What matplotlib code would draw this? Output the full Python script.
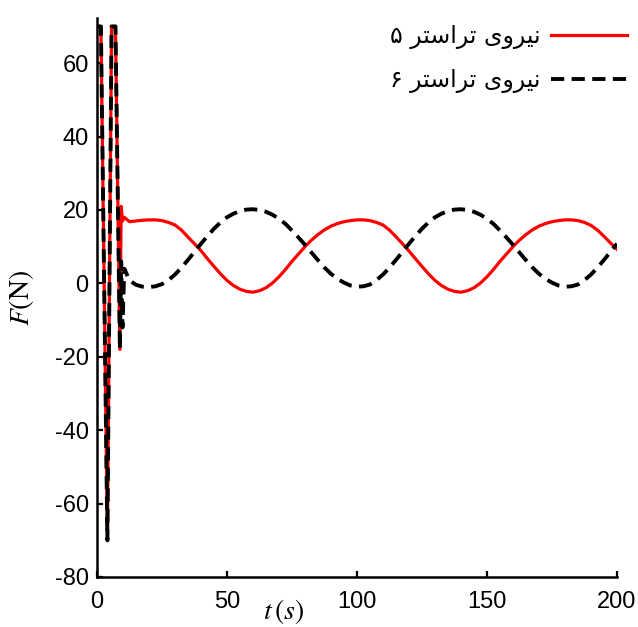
import matplotlib
matplotlib.use("Agg")
import matplotlib.pyplot as plt
from matplotlib.lines import Line2D

# ---------------- data ----------------
# start-up transient (both thrusters saturate at +/-70 N)
time_transient = [0, 1.5, 4.0, 5.6, 7.1, 8.8, 9.3, 9.8, 10.5]
thruster5_transient = [70, 70, -70, 70, 70, -18, 21, 17, 18]
thruster6_transient = [70, 70, -70, 70, 70, -18, 6, -12, 4]

# steady part, sampled every 2.5 s from 12.5 s to 200 s
time_steady = [12.5 + 2.5 * i for i in range(76)]
thruster5_steady = [
    16.8, 17.0, 17.2, 17.3, 17.3, 17.1, 16.6, 15.9, 14.5, 12.6,
    10.8, 8.9, 6.7, 4.6, 2.6, 0.8, -0.6, -1.6, -2.2, -2.4,
    -2.0, -1.2, 0.1, 1.8, 3.8, 6.0, 8.0, 10.0, 11.8, 13.3,
    14.6, 15.6, 16.3, 16.8, 17.1, 17.3,
    17.3, 17.1, 16.6, 15.9, 14.5, 12.7, 10.8, 8.8, 6.7, 4.6,
    2.6, 0.8, -0.6, -1.6, -2.2, -2.4, -2.0, -1.2, 0.1, 1.8,
    3.8, 6.0, 8.0, 10.0, 11.8, 13.3, 14.6, 15.6, 16.3, 16.8,
    17.1, 17.3,
    17.3, 17.1, 16.6, 15.8, 14.5, 12.8, 11.0, 9.3]
thruster6_steady = [
    0.8, -0.4, -0.9, -1.0, -0.8, -0.2, 0.9, 2.4, 4.3, 6.4,
    8.6, 10.8, 12.9, 14.9, 16.6, 18.0, 19.0, 19.7, 20.1, 20.2,
    20.0, 19.5, 18.7, 17.6, 16.2, 14.4, 12.5, 10.5, 8.4, 6.3,
    4.3, 2.6, 1.2, 0.2, -0.6, -0.9,
    -0.8, -0.3, 0.9, 2.4, 4.3, 6.4, 8.6, 10.8, 12.9, 14.9,
    16.6, 18.0, 19.0, 19.7, 20.1, 20.2, 20.0, 19.5, 18.7, 17.6,
    16.2, 14.4, 12.5, 10.5, 8.4, 6.3, 4.3, 2.6, 1.2, 0.2,
    -0.6, -0.9,
    -0.8, -0.3, 0.9, 2.4, 4.3, 6.4, 8.6, 10.8]

legend_labels = ["نیروی تراستر ۵", "نیروی تراستر ۶"]
xticks = [0, 50, 100, 150, 200]
yticks = [-80, -60, -40, -20, 0, 20, 40, 60]
xlabel = r"$t\,(s)$"
ylabel = r"$F(\mathrm{N})$"

time = time_transient + time_steady
thruster5 = thruster5_transient + thruster5_steady
thruster6 = thruster6_transient + thruster6_steady
assert len(time) == len(thruster5) == len(thruster6)

# ---------------- minimal Persian shaping (presentation forms) ----------------
_FORMS = {  # isolated, final, initial, medial
    'ن': ('\uFEE5', '\uFEE6', '\uFEE7', '\uFEE8'),
    'ی': ('\uFEEF', '\uFEF0', '\uFEF3', '\uFEF4'),
    'ت': ('\uFE95', '\uFE96', '\uFE97', '\uFE98'),
    'س': ('\uFEB1', '\uFEB2', '\uFEB3', '\uFEB4'),
    'ر': ('\uFEAD', '\uFEAE', None, None),
    'و': ('\uFEED', '\uFEEE', None, None),
    'ا': ('\uFE8D', '\uFE8E', None, None),
}
_DUAL = set('نیتس')


def shape_fa(s):
    out = []
    for i, ch in enumerate(s):
        if ch not in _FORMS:
            out.append(ch)
            continue
        prev = s[i - 1] if i > 0 else ''
        nxt = s[i + 1] if i + 1 < len(s) else ''
        jp = prev in _DUAL
        jn = ch in _DUAL and nxt in _FORMS
        iso, fin, ini, med = _FORMS[ch]
        if jp and jn:
            out.append(med)
        elif jp:
            out.append(fin)
        elif jn:
            out.append(ini)
        else:
            out.append(iso)
    return ''.join(reversed(out))


plt.rcParams['axes.unicode_minus'] = False
plt.rcParams['mathtext.fontset'] = 'stix'
plt.rcParams['font.family'] = ['Liberation Sans', 'DejaVu Sans']

W, H = 638, 627
fig = plt.figure(figsize=(W / 100, H / 100), dpi=100)
ax = fig.add_axes([97 / W, 1 - 577 / H, (617 - 97) / W, (577 - 18) / H])

ax.plot(time, thruster5, color='#ff0000', lw=2.3, zorder=2,
        solid_joinstyle='round')
ax.plot(time, thruster6, color='black', lw=2.8, zorder=3,
        dashes=(3.4, 1.9), dash_capstyle='butt')

ax.set_xlim(0, 200)
ax.set_ylim(-80, 72.3)
ax.set_xticks(xticks)
ax.set_yticks(yticks)
ax.tick_params(direction='in', length=4, width=1.6, labelsize=17)
ax.tick_params(axis='y', pad=6)
ax.tick_params(axis='x', pad=10)
for s in ['top', 'right']:
    ax.spines[s].set_visible(False)
for s in ['left', 'bottom']:
    ax.spines[s].set_linewidth(1.8)

fig.text(22 / W, 1 - 298 / H, ylabel, rotation=90, ha='center', va='center',
         fontsize=20)
fig.text(283 / W, 1 - 612 / H, xlabel, ha='center', va='center', fontsize=20)

handles = [Line2D([], [], color='#ff0000', lw=2.3),
           Line2D([], [], color='black', lw=2.8, dashes=(3.4, 1.9))]
ax.legend(handles, [shape_fa(l) for l in legend_labels], loc='upper right',
          bbox_to_anchor=(627 / W, 1 - 24 / H), bbox_transform=fig.transFigure,
          frameon=False, markerfirst=False, handlelength=3.2,
          handletextpad=0.45, labelspacing=0.82, borderpad=0, borderaxespad=0,
          prop={'family': ['DejaVu Sans'], 'size': 17})

fig.savefig('out.png', dpi=100)
